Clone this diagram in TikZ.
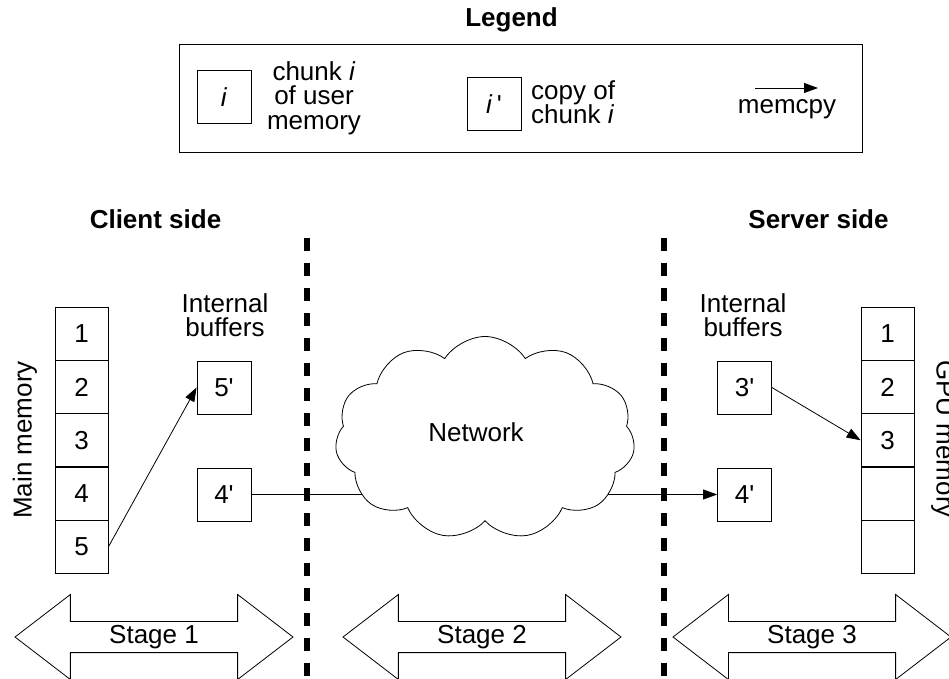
\documentclass[tikz,border=0pt]{standalone}
\usepackage{fontspec}
\setmainfont{Liberation Sans}
\usetikzlibrary{shapes.symbols,shapes.arrows,arrows.meta}
\newcommand{\apo}{\textquotesingle}
\tikzset{
  cell/.style={draw, line width=0.8pt, minimum width=53pt, minimum height=53.4pt, inner sep=0pt, font=\fontsize{26}{28}\selectfont},
  buf/.style={draw, line width=0.8pt, minimum width=54pt, minimum height=53pt, inner sep=0pt, font=\fontsize{26}{28}\selectfont},
  txt/.style={font=\fontsize{26}{24.5}\selectfont, inner sep=0pt, align=center},
  title/.style={font=\bfseries\fontsize{26}{28}\selectfont, inner sep=0pt},
  sep/.style={line width=6pt, dash pattern=on 13pt off 12pt},
  conn/.style={line width=0.8pt, -{Triangle[length=14pt,width=10pt]}},
  stage/.style={draw, line width=0.8pt, double arrow, minimum width=85pt, minimum height=278pt,
    double arrow head extend=21pt, double arrow tip angle=75, inner sep=0pt, font=\fontsize{26}{28}\selectfont},
}
\begin{document}
\begin{tikzpicture}[x=1pt,y=-1pt]
\useasboundingbox (0,0) rectangle (949,679);
% legend
\node[title] (legt) at (511.5,20) {Legend};
\draw[line width=0.8pt] (179,44.5) rectangle (862,152);
\node[buf] (li) at (224,97) {\textit{i}};
\node[txt] (lit) at (314,98) {chunk \textit{i}\\of user\\memory};
\node[buf] (lip) at (494,104) {\textit{i}\,\apo};
\node[txt, align=left, anchor=west] (lipt) at (531,102) {copy of\\chunk \textit{i}};
\coordinate (ma) at (755,88);
\coordinate (mb) at (818,88);
\draw[conn] (ma) -- (mb);
\node[txt] (mc) at (787,109) {memcpy};
% titles
\node[title] (cs) at (155.5,219) {Client side};
\node[title] (ss) at (818.5,219) {Server side};
% separators
\coordinate (d1a) at (307,238);
\coordinate (d1b) at (307,680);
\coordinate (d2a) at (664,238);
\coordinate (d2b) at (664,680);
\draw[sep] (d1a) -- (d1b);
\draw[sep] (d2a) -- (d2b);
% main memory
\foreach \i/\t in {1/1,2/2,3/3,4/4,5/5} {
  \node[cell] (m\i) at (81.5,{307+53.3*(\i-0.5)}) {\t};
}
\node[txt, rotate=90] (mml) at (25,440) {Main memory};
% GPU memory
\foreach \i/\t in {1/1,2/2,3/3,4/,5/} {
  \node[cell] (g\i) at (887.5,{307+53.3*(\i-0.5)}) {\t};
}
\node[txt, rotate=-90] (gml) at (943,439) {GPU memory};
% internal buffers
\node[txt] (ibc) at (225,315) {Internal\\buffers};
\node[txt] (ibs) at (743,315) {Internal\\buffers};
\node[buf] (c5) at (224,387.5) {5\apo};
\node[buf] (c4) at (224,494.5) {4\apo};
\node[buf] (s3) at (744.5,387.5) {3\apo};
\node[buf] (s4) at (744.5,494.5) {4\apo};
% connectors
\draw[conn] (m5.east) -- (c5.west);
\draw[conn] (s3.east) -- (g3.west);
\draw[conn] (c4.east) -- (s4.west);
% cloud
\node[cloud, draw, fill=white, line width=0.8pt, cloud puffs=11, cloud puff arc=115, aspect=1.5,
  minimum width=300pt, minimum height=203pt, inner sep=0pt] (cl) at (485,438) {};
\node[txt] (net) at (476,432) {Network};
% stages
\node[stage] (st1) at (154,637) {Stage 1};
\node[stage] (st2) at (482,637) {Stage 2};
\node[stage] (st3) at (812,637) {Stage 3};
\end{tikzpicture}
\end{document}
